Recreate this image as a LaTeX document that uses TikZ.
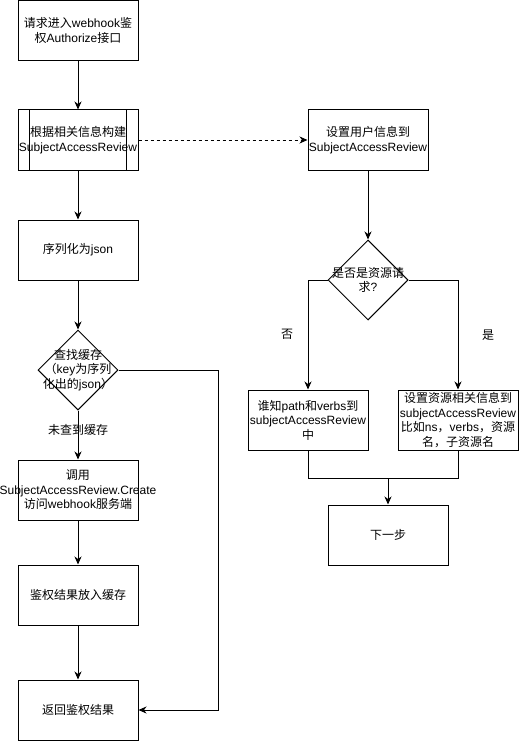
\documentclass[tikz,border=0pt]{standalone}
\usepackage{fontspec}
\setmainfont{Liberation Sans}
\newfontfamily\cjkf{Noto Sans CJK SC}
\newcommand\zh[1]{{\cjkf #1}}
\usetikzlibrary{arrows.meta,shapes.geometric}
\begin{document}
\begin{tikzpicture}[x=1pt,y=-1pt,
 box/.style={draw,line width=1pt,minimum width=120pt,minimum height=60pt,inner sep=0pt},
 dia/.style={draw,line width=1pt,diamond,minimum width=80pt,minimum height=80pt,inner sep=0pt,aspect=1},
 txt/.style={align=center,font=\fontsize{12}{14.5}\selectfont,inner sep=0pt},
 arr/.style={line width=1pt,-{Stealth[length=8pt,width=7pt,inset=2.5pt]}},
 ln/.style={line width=1pt}]
\useasboundingbox (0,0) rectangle (519,741);
% left column
\node[box] (b1) at (78,30.5) {};
\node[txt] (t1) at (b1.center) {\zh{请求进入}webhook\zh{鉴}\\\zh{权}Authorize\zh{接口}};
\node[box] (b2) at (78,140) {};
\draw[ln] ([xshift=12pt]b2.north west) -- ([xshift=12pt]b2.south west);
\draw[ln] ([xshift=-12pt]b2.north east) -- ([xshift=-12pt]b2.south east);
\node[txt] (t2) at (b2.center) {\zh{根据相关信息构建}\\SubjectAccessReview};
\node[box] (b3) at (78,250) {};
\node[txt] (t3) at (b3.center) {\zh{序列化为}json};
\node[dia] (d1) at (78,370) {};
\node[txt] (td1) at (d1.center) {\zh{查找缓存}\\\zh{（}key\zh{为序列}\\\zh{化出的}json\zh{）}};
\node[box] (b4) at (78,490) {};
\node[txt] (t4) at (b4.center) {\zh{调用}\\SubjectAccessReview.Create\\\zh{访问}webhook\zh{服务端}};
\node[box] (b5) at (78,595) {};
\node[txt] (t5) at (b5.center) {\zh{鉴权结果放入缓存}};
\node[box] (b6) at (78,710) {};
\node[txt] (t6) at (b6.center) {\zh{返回鉴权结果}};
% right column
\node[box] (r1) at (368,140) {};
\node[txt] (tr1) at (r1.center) {\zh{设置用户信息到}\\SubjectAccessReview};
\node[dia] (d2) at (368,280) {};
\node[txt] (td2) at (d2.center) {\zh{是否是资源请}\\\zh{求}?};
\node[box] (r2) at (308,420) {};
\node[txt] (tr2) at (r2.center) {\zh{谁知}path\zh{和}verbs\zh{到}\\subjectAccessReview\\\zh{中}};
\node[box] (r3) at (458,420) {};
\node[txt] (tr3) at (r3.center) {\zh{设置资源相关信息到}\\subjectAccessReview\\\zh{比如}ns\zh{，}verbs\zh{，资源}\\\zh{名，子资源名}};
\node[box] (r4) at (388,535) {};
\node[txt] (tr4) at (r4.center) {\zh{下一步}};
\coordinate (m) at (388,478);
\coordinate (c1) at (218,370);
\coordinate (c2) at (218,710);
% connectors
\draw[arr] (b1) -- (b2);
\draw[arr] (b2) -- (b3);
\draw[arr] (b3) -- (d1);
\draw[arr] (d1) -- node[txt,pos=0.4] {\zh{未查到缓存}} (b4);
\draw[arr] (b4) -- (b5);
\draw[arr] (b5) -- (b6);
\draw[arr] (d1.east) -- (c1) -- (c2) -- (b6.east);
\draw[arr,dash pattern=on 3pt off 3pt] (b2) -- (r1);
\draw[arr] (r1) -- (d2);
\draw[arr] (d2.west) -| node[txt,pos=0.75,xshift=-21pt] {\zh{否}} (r2.north);
\draw[arr] (d2.east) -| node[txt,pos=0.75,xshift=30pt] {\zh{是}} (r3.north);
\draw[ln] (r2.south) |- (m);
\draw[ln] (r3.south) |- (m);
\draw[arr] (m) -- (r4);
\end{tikzpicture}
\end{document}
